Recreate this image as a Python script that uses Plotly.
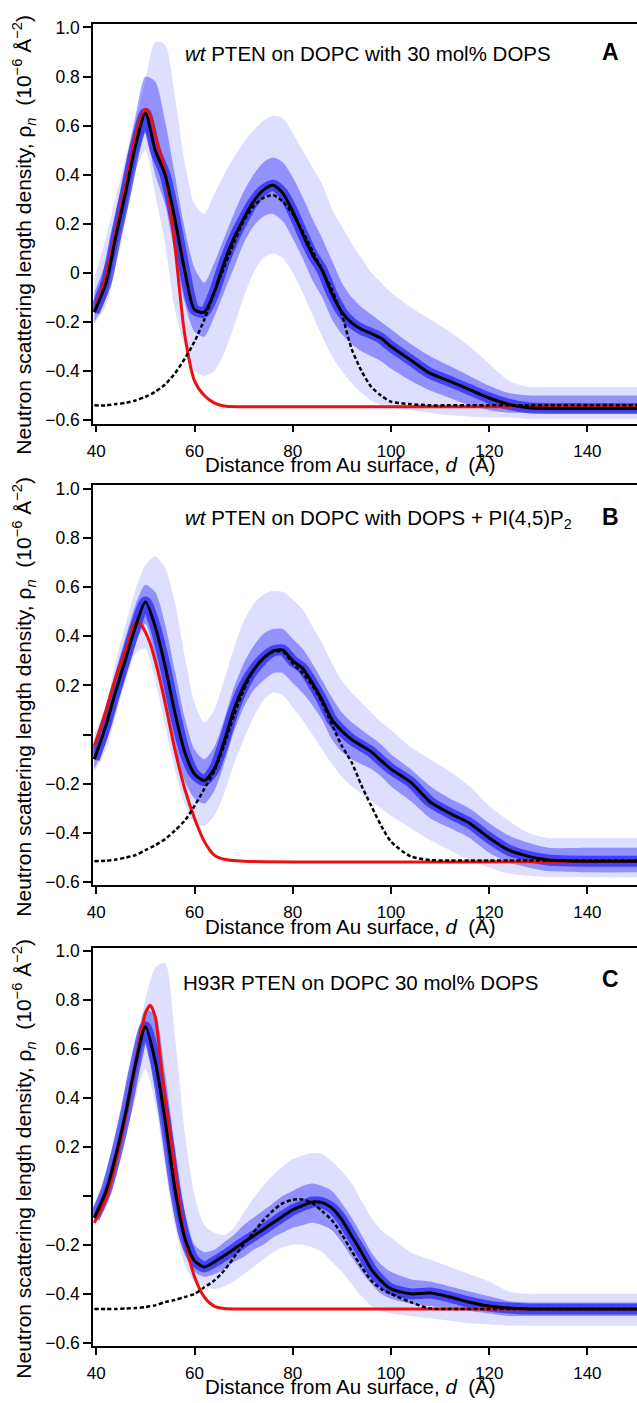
import plotly.graph_objects as go

# ---------------- data ----------------
d_grid = [39.6, 42, 44, 46, 48, 50, 52, 54, 56, 58,
          60, 62, 64, 66, 68, 70, 72, 74, 76, 78,
          80, 82, 84, 86, 88, 90, 92, 94, 96, 98,
          100, 104, 108, 112, 116, 120, 124, 128, 132, 140, 152]
# finer grid for the (sharp) red profiles
red_grid = [39.6, 42, 44, 46, 48, 49, 50, 51, 52, 53,
            54, 56, 58, 60, 62, 64, 66, 70, 152]

# Panel A: wt PTEN on DOPC with 30 mol% DOPS
black_A = [-0.16, -0.04, 0.15, 0.33, 0.52, 0.65, 0.50, 0.40, 0.22, 0.01,
           -0.15, -0.16, -0.08, 0.04, 0.14, 0.22, 0.29, 0.337, 0.357, 0.324,
           0.25, 0.16, 0.075, 0.01, -0.086, -0.16, -0.204, -0.23, -0.247, -0.267,
           -0.30, -0.355, -0.41, -0.442, -0.476, -0.51, -0.536, -0.55, -0.553, -0.553, -0.553]
red_A = [-0.16, -0.01, 0.17, 0.36, 0.56, 0.63, 0.667, 0.64, 0.56, 0.49,
         0.41, 0.11, -0.25, -0.44, -0.50, -0.53, -0.543, -0.546, -0.546]
dash_A = [-0.54, -0.54, -0.535, -0.53, -0.52, -0.505, -0.485, -0.455, -0.41, -0.35,
          -0.28, -0.19, -0.08, 0.02, 0.12, 0.21, 0.27, 0.305, 0.317, 0.29,
          0.24, 0.17, 0.09, 0.01, -0.07, -0.17, -0.31, -0.40, -0.465, -0.50,
          -0.525, -0.535, -0.54, -0.54, -0.54, -0.54, -0.54, -0.54, -0.54, -0.54, -0.54]
outer_hi_A = [-0.02, 0.145, 0.31, 0.47, 0.62, 0.785, 0.94, 0.93, 0.72, 0.45,
              0.28, 0.24, 0.32, 0.40, 0.47, 0.53, 0.58, 0.62, 0.64, 0.63,
              0.57, 0.50, 0.43, 0.36, 0.26, 0.19, 0.12, 0.06, 0.0, -0.04,
              -0.08, -0.14, -0.19, -0.24, -0.30, -0.37, -0.44, -0.465, -0.465, -0.465, -0.465]
outer_lo_A = [-0.21, -0.13, 0.03, 0.22, 0.42, 0.50, 0.32, 0.12, -0.15, -0.30,
              -0.40, -0.42, -0.40, -0.33, -0.22, -0.10, 0.0, 0.06, 0.08, 0.06,
              0.0, -0.08, -0.17, -0.26, -0.34, -0.40, -0.45, -0.49, -0.52, -0.54,
              -0.55, -0.56, -0.57, -0.58, -0.585, -0.59, -0.59, -0.595, -0.595, -0.595, -0.595]
inner_hi_A = [-0.08, 0.05, 0.25, 0.45, 0.64, 0.80, 0.78, 0.62, 0.40, 0.18,
              0.02, -0.04, 0.04, 0.14, 0.24, 0.33, 0.40, 0.45, 0.47, 0.45,
              0.39, 0.31, 0.22, 0.14, 0.05, -0.04, -0.10, -0.14, -0.17, -0.20,
              -0.23, -0.29, -0.34, -0.38, -0.42, -0.46, -0.49, -0.50, -0.50, -0.50, -0.50]
inner_lo_A = [-0.20, -0.10, 0.08, 0.25, 0.45, 0.57, 0.40, 0.28, 0.08, -0.12,
              -0.24, -0.26, -0.18, -0.08, 0.02, 0.12, 0.19, 0.23, 0.24, 0.21,
              0.14, 0.06, -0.03, -0.10, -0.19, -0.25, -0.29, -0.32, -0.34, -0.36,
              -0.39, -0.44, -0.48, -0.51, -0.54, -0.56, -0.57, -0.57, -0.57, -0.57, -0.57]

# Panel B: wt PTEN on DOPC with DOPS + PI(4,5)P2
black_B = [-0.10, 0.04, 0.18, 0.31, 0.44, 0.54, 0.44, 0.28, 0.09, -0.07,
           -0.16, -0.187, -0.14, -0.03, 0.10, 0.196, 0.263, 0.31, 0.34, 0.344,
           0.30, 0.27, 0.21, 0.14, 0.06, 0.015, -0.02, -0.045, -0.07, -0.106,
           -0.14, -0.193, -0.274, -0.32, -0.36, -0.42, -0.47, -0.495, -0.51, -0.515, -0.515]
red_B = [-0.045, 0.10, 0.236, 0.344, 0.455, 0.45, 0.417, 0.37, 0.30, 0.22,
         0.13, -0.06, -0.22, -0.34, -0.435, -0.49, -0.507, -0.515, -0.515]
dash_B = [-0.515, -0.513, -0.508, -0.50, -0.49, -0.47, -0.45, -0.425, -0.39, -0.35,
          -0.29, -0.22, -0.15, -0.046, 0.075, 0.18, 0.26, 0.31, 0.337, 0.337,
          0.29, 0.25, 0.20, 0.13, 0.04, -0.046, -0.113, -0.207, -0.29, -0.37,
          -0.435, -0.495, -0.51, -0.512, -0.512, -0.512, -0.512, -0.512, -0.512, -0.512, -0.512]
outer_hi_B = [0.0, 0.12, 0.30, 0.45, 0.59, 0.69, 0.725, 0.68, 0.54, 0.32,
              0.13, 0.05, 0.10, 0.22, 0.35, 0.46, 0.53, 0.57, 0.585, 0.58,
              0.55, 0.51, 0.44, 0.37, 0.29, 0.22, 0.17, 0.13, 0.09, 0.05,
              0.02, -0.05, -0.10, -0.15, -0.21, -0.29, -0.35, -0.40, -0.42, -0.42, -0.42]
outer_lo_B = [-0.15, -0.06, 0.08, 0.22, 0.33, 0.35, 0.22, 0.04, -0.14, -0.28,
              -0.36, -0.37, -0.33, -0.24, -0.12, -0.02, 0.07, 0.14, 0.17, 0.16,
              0.11, 0.06, 0.0, -0.06, -0.12, -0.17, -0.21, -0.24, -0.27, -0.30,
              -0.33, -0.38, -0.43, -0.47, -0.51, -0.54, -0.565, -0.575, -0.58, -0.58, -0.58]
inner_hi_B = [-0.05, 0.10, 0.26, 0.40, 0.53, 0.61, 0.58, 0.45, 0.26, 0.07,
              -0.06, -0.10, -0.05, 0.06, 0.19, 0.29, 0.36, 0.41, 0.43, 0.43,
              0.39, 0.35, 0.29, 0.22, 0.15, 0.09, 0.05, 0.02, -0.01, -0.04,
              -0.08, -0.14, -0.21, -0.26, -0.30, -0.36, -0.41, -0.44, -0.46, -0.46, -0.46]
inner_lo_B = [-0.14, -0.03, 0.11, 0.24, 0.37, 0.45, 0.32, 0.14, -0.06, -0.19,
              -0.26, -0.28, -0.23, -0.12, 0.01, 0.11, 0.18, 0.22, 0.25, 0.25,
              0.21, 0.17, 0.12, 0.06, -0.02, -0.07, -0.10, -0.12, -0.14, -0.17,
              -0.21, -0.27, -0.34, -0.38, -0.42, -0.48, -0.52, -0.54, -0.555, -0.56, -0.56]

# Panel C: H93R PTEN on DOPC 30 mol% DOPS
black_C = [-0.09, 0.02, 0.166, 0.34, 0.54, 0.69, 0.55, 0.31, 0.03, -0.17,
           -0.265, -0.29, -0.27, -0.245, -0.218, -0.19, -0.164, -0.137, -0.11, -0.083,
           -0.057, -0.04, -0.025, -0.028, -0.05, -0.097, -0.164, -0.23, -0.30, -0.347,
           -0.38, -0.40, -0.397, -0.413, -0.434, -0.45, -0.458, -0.462, -0.462, -0.462, -0.462]
red_C = [-0.11, -0.01, 0.139, 0.327, 0.54, 0.65, 0.745, 0.778, 0.73, 0.57,
         0.40, 0.11, -0.17, -0.33, -0.413, -0.45, -0.46, -0.462, -0.462]
dash_C = [-0.462, -0.462, -0.462, -0.46, -0.458, -0.454, -0.447, -0.434, -0.425, -0.413,
          -0.40, -0.373, -0.346, -0.306, -0.252, -0.198, -0.15, -0.10, -0.06, -0.03,
          -0.016, -0.015, -0.03, -0.063, -0.10, -0.158, -0.225, -0.29, -0.346, -0.38,
          -0.40, -0.434, -0.46, -0.462, -0.462, -0.462, -0.462, -0.462, -0.462, -0.462, -0.462]
outer_hi_C = [-0.04, 0.10, 0.25, 0.43, 0.62, 0.80, 0.93, 0.95, 0.65, 0.26,
              0.0, -0.12, -0.15, -0.16, -0.13, -0.07, -0.01, 0.04, 0.085, 0.12,
              0.15, 0.165, 0.175, 0.17, 0.14, 0.10, 0.05, -0.02, -0.09, -0.14,
              -0.17, -0.23, -0.26, -0.29, -0.32, -0.35, -0.39, -0.40, -0.40, -0.40, -0.40]
outer_lo_C = [-0.12, -0.05, 0.08, 0.24, 0.40, 0.52, 0.38, 0.12, -0.12, -0.28,
              -0.35, -0.37, -0.38, -0.37, -0.35, -0.32, -0.29, -0.26, -0.23, -0.21,
              -0.20, -0.20, -0.21, -0.23, -0.27, -0.31, -0.36, -0.41, -0.45, -0.47,
              -0.48, -0.49, -0.50, -0.51, -0.52, -0.525, -0.53, -0.53, -0.53, -0.53, -0.53]
inner_hi_C = [-0.07, 0.05, 0.20, 0.38, 0.58, 0.76, 0.74, 0.50, 0.20, -0.06,
              -0.20, -0.23, -0.22, -0.19, -0.16, -0.12, -0.09, -0.06, -0.03, 0.0,
              0.02, 0.04, 0.05, 0.04, 0.02, -0.03, -0.09, -0.16, -0.23, -0.28,
              -0.31, -0.34, -0.35, -0.37, -0.39, -0.41, -0.43, -0.435, -0.435, -0.435, -0.435]
inner_lo_C = [-0.11, -0.02, 0.12, 0.29, 0.48, 0.63, 0.45, 0.22, -0.05, -0.22,
              -0.31, -0.33, -0.32, -0.30, -0.27, -0.25, -0.22, -0.20, -0.17, -0.15,
              -0.13, -0.12, -0.11, -0.12, -0.14, -0.19, -0.25, -0.31, -0.36, -0.40,
              -0.42, -0.44, -0.45, -0.46, -0.47, -0.48, -0.49, -0.49, -0.49, -0.49, -0.49]

panel_labels = ["A", "B", "C"]
panel_titles = ["<i>wt</i> PTEN on DOPC with 30 mol% DOPS",
                "<i>wt</i> PTEN on DOPC with DOPS + PI(4,5)P<sub>2</sub>",
                "H93R PTEN on DOPC 30 mol% DOPS"]
x_ticks = [40, 60, 80, 100, 120, 140]
x_ticklabels = ["40", "60", "80", "100", "120", "140"]
y_ticks = [1.0, 0.8, 0.6, 0.4, 0.2, 0.0, -0.2, -0.4, -0.6]
y_ticklabels_A = ["1.0", "0.8", "0.6", "0.4", "0.2", "0", "\u22120.2", "\u22120.4", "\u22120.6"]
y_ticklabels_BC = ["1.0", "0.8", "0.6", "0.4", "0.2", " ", "\u22120.2", "\u22120.4", "\u22120.6"]
x_title = "Distance from Au surface, <i>d</i>\u00a0\u00a0(Å)"
y_title = ("Neutron scattering length density, \u03c1<sub><i>n</i></sub>\u00a0\u00a0"
           "(10<sup>\u22126</sup> Å<sup>\u22122</sup>)")

panels = [
    dict(black=black_A, red=red_A, dash=dash_A, ohi=outer_hi_A, olo=outer_lo_A,
         ihi=inner_hi_A, ilo=inner_lo_A),
    dict(black=black_B, red=red_B, dash=dash_B, ohi=outer_hi_B, olo=outer_lo_B,
         ihi=inner_hi_B, ilo=inner_lo_B),
    dict(black=black_C, red=red_C, dash=dash_C, ohi=outer_hi_C, olo=outer_lo_C,
         ihi=inner_hi_C, ilo=inner_lo_C),
]

# ---------------- layout geometry ----------------
W, H = 637, 1403
ML = 93
PW = W - ML
FONT = "Liberation Sans, Arial, Helvetica, sans-serif"

def px(xp):
    return (xp - ML) / PW

def py(yp):
    return 1 - yp / H

# plot area pixel boxes (top, bottom) and y ranges
boxes = [(16.7, 420.7, [-0.614, 1.016]),
         (483.3, 886.7, [-0.611, 1.0137]),
         (950.0, 1352.7, [-0.6137, 1.0133])]

fig = go.Figure()
SPL = dict(shape="spline", smoothing=0.7)

for i, p in enumerate(panels):
    xa = "x" if i == 0 else f"x{i+1}"
    ya = "y" if i == 0 else f"y{i+1}"
    common = dict(xaxis=xa, yaxis=ya, showlegend=False, hoverinfo="skip")
    # outer (faint) band
    fig.add_trace(go.Scatter(x=d_grid, y=p["olo"], mode="lines",
                             line=dict(width=0, color="rgba(0,0,0,0)", **SPL), **common))
    fig.add_trace(go.Scatter(x=d_grid, y=p["ohi"], mode="lines", fill="tonexty",
                             fillcolor="rgba(90,90,255,0.2)",
                             line=dict(width=0, color="rgba(0,0,0,0)", **SPL), **common))
    # inner (dense) band
    fig.add_trace(go.Scatter(x=d_grid, y=p["ilo"], mode="lines",
                             line=dict(width=0, color="rgba(0,0,0,0)", **SPL), **common))
    fig.add_trace(go.Scatter(x=d_grid, y=p["ihi"], mode="lines", fill="tonexty",
                             fillcolor="rgba(40,40,255,0.42)",
                             line=dict(width=0, color="rgba(0,0,0,0)", **SPL), **common))
    # densest core of the Monte-Carlo profiles, around the median
    fig.add_trace(go.Scatter(x=d_grid, y=p["black"], mode="lines",
                             line=dict(width=11, color="rgba(15,15,240,0.6)", **SPL), **common))
    # red curve
    fig.add_trace(go.Scatter(x=red_grid, y=p["red"], mode="lines",
                             line=dict(width=3, color="rgb(236,16,16)", **SPL), **common))
    # dashed curve
    fig.add_trace(go.Scatter(x=d_grid, y=p["dash"], mode="lines",
                             line=dict(width=2.5, color="black", dash="4px,2.5px", **SPL), **common))
    # black median
    fig.add_trace(go.Scatter(x=d_grid, y=p["black"], mode="lines",
                             line=dict(width=3, color="black", **SPL), **common))

layout = dict(width=W, height=H, margin=dict(l=ML, r=0, t=0, b=0),
              paper_bgcolor="white", plot_bgcolor="white",
              font=dict(family=FONT, color="black", size=17))

annotations = []
for i, (top, bot, yr) in enumerate(boxes):
    xk = "xaxis" if i == 0 else f"xaxis{i+1}"
    yk = "yaxis" if i == 0 else f"yaxis{i+1}"
    ya = "y" if i == 0 else f"y{i+1}"
    xa = "x" if i == 0 else f"x{i+1}"
    layout[xk] = dict(domain=[0, 1], range=[39.33, 150.1], anchor=ya,
                      showline=True, linecolor="black", linewidth=1.5, mirror=True,
                      ticks="outside", ticklen=7, tickwidth=1.5, tickcolor="black",
                      ticklabelstandoff=4,
                      tickvals=x_ticks, ticktext=x_ticklabels,
                      tickfont=dict(size=17, family=FONT, color="black"),
                      showgrid=False, zeroline=False)
    layout[yk] = dict(domain=[py(bot), py(top)], range=yr, anchor=xa,
                      showline=True, linecolor="black", linewidth=1.5,
                      ticks="outside", ticklen=8, tickwidth=1.5, tickcolor="black",
                      tickvals=y_ticks,
                      ticktext=y_ticklabels_A if i == 0 else y_ticklabels_BC,
                      tickfont=dict(size=17.5, family=FONT, color="black"),
                      showgrid=False, zeroline=False)
    off = top - boxes[0][0]
    # y-axis title
    annotations.append(dict(text=y_title, textangle=-90, xref="paper", yref="paper",
                            x=px(24), y=py(230 + off), xanchor="center", yanchor="middle",
                            showarrow=False, font=dict(size=21, family=FONT, color="black")))
    # x-axis title
    annotations.append(dict(text=x_title, xref="paper", yref="paper",
                            x=px(350), y=py(min(462 + off, 1393)), xanchor="center", yanchor="middle",
                            showarrow=False, font=dict(size=20.5, family=FONT, color="black")))
    # panel description
    ty = [46.7, 517, 985][i]
    annotations.append(dict(text=panel_titles[i], xref="paper", yref="paper",
                            x=px(183 if i < 2 else 181), y=py(ty), xanchor="left", yanchor="middle",
                            showarrow=False, font=dict(size=20.5, family=FONT, color="black")))
    # panel letter
    ly = [45, 515, 982][i]
    annotations.append(dict(text="<b>" + panel_labels[i] + "</b>", xref="paper", yref="paper",
                            x=px(610), y=py(ly), xanchor="center", yanchor="middle",
                            showarrow=False, font=dict(size=23, family=FONT, color="black")))

layout["annotations"] = annotations
fig.update_layout(**layout)
fig.write_html("out.html", config={"displayModeBar": False},
               post_script="document.body.style.margin='0px';"
                           "document.body.style.overflow='hidden';")
